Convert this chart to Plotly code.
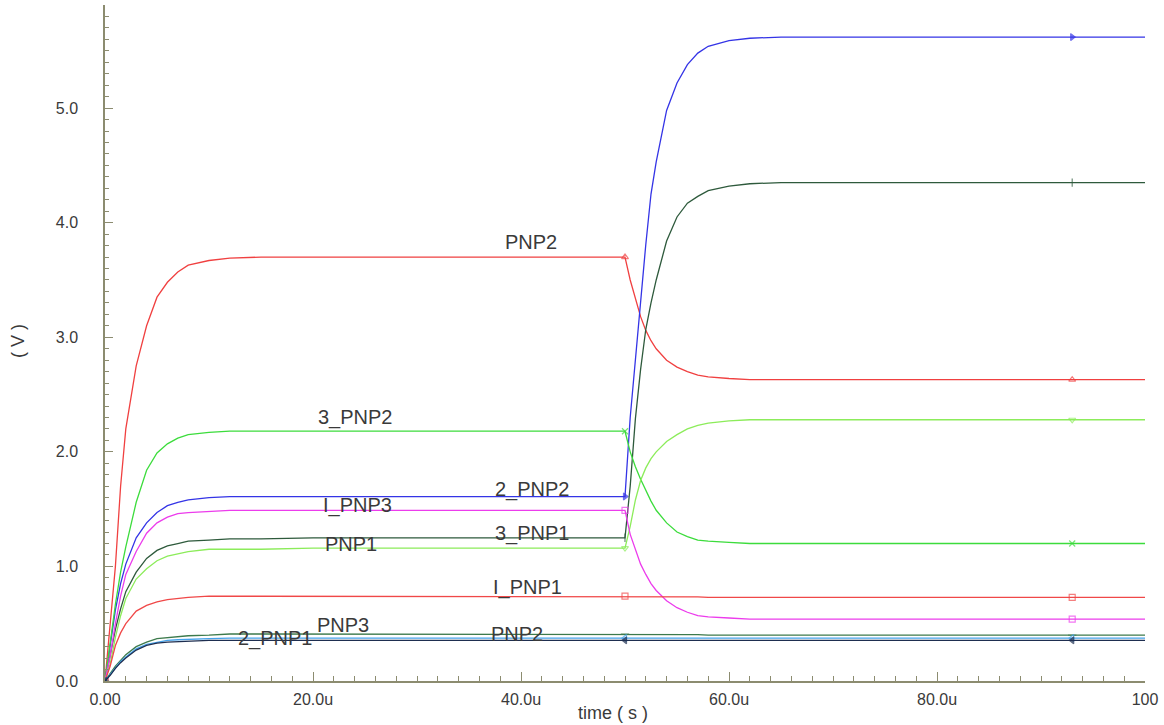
import plotly.graph_objects as go

# time points (microseconds)
T = [0, 0.5, 1, 1.5, 2, 3, 4, 5, 6, 7, 8, 10, 12, 15, 20, 30, 40, 50,
     50.5, 51, 51.5, 52, 52.5, 53, 54, 55, 56, 57, 58, 60, 62, 65, 70, 80, 93, 100]

# node voltages (V)
PNP2_A = [0, 0.50, 1.00, 1.70, 2.20, 2.75, 3.10, 3.35, 3.48, 3.57, 3.63, 3.67, 3.69, 3.70, 3.70, 3.70, 3.70, 3.70,
          3.50, 3.33, 3.18, 3.06, 2.97, 2.90, 2.80, 2.74, 2.70, 2.67, 2.655, 2.64, 2.63, 2.63, 2.63, 2.63, 2.63, 2.63]
PNP2_2 = [0, 0.30, 0.62, 0.85, 1.02, 1.25, 1.38, 1.47, 1.53, 1.56, 1.58, 1.60, 1.61, 1.61, 1.61, 1.61, 1.61, 1.61,
          2.30, 2.80, 3.35, 3.81, 4.25, 4.53, 4.98, 5.22, 5.38, 5.48, 5.54, 5.59, 5.61, 5.62, 5.62, 5.62, 5.62, 5.62]
PNP1_3 = [0, 0.22, 0.45, 0.63, 0.78, 0.95, 1.07, 1.14, 1.18, 1.20, 1.22, 1.23, 1.24, 1.24, 1.25, 1.25, 1.25, 1.25,
          1.70, 2.29, 2.72, 3.07, 3.30, 3.50, 3.84, 4.05, 4.17, 4.23, 4.28, 4.32, 4.34, 4.35, 4.35, 4.35, 4.35, 4.35]
PNP2_3 = [0, 0.33, 0.67, 0.95, 1.17, 1.56, 1.84, 1.99, 2.07, 2.12, 2.15, 2.17, 2.18, 2.18, 2.18, 2.18, 2.18, 2.18,
          2.00, 1.87, 1.76, 1.66, 1.57, 1.49, 1.38, 1.30, 1.26, 1.23, 1.22, 1.21, 1.20, 1.20, 1.20, 1.20, 1.20, 1.20]
PNP1_A = [0, 0.15, 0.38, 0.57, 0.72, 0.89, 0.98, 1.05, 1.09, 1.11, 1.13, 1.15, 1.15, 1.15, 1.16, 1.16, 1.16, 1.16,
          1.35, 1.58, 1.75, 1.86, 1.94, 2.00, 2.09, 2.15, 2.20, 2.23, 2.25, 2.27, 2.28, 2.28, 2.28, 2.28, 2.28, 2.28]
I_PNP3 = [0, 0.22, 0.50, 0.74, 0.93, 1.13, 1.29, 1.38, 1.43, 1.46, 1.47, 1.48, 1.49, 1.49, 1.49, 1.49, 1.49, 1.49,
          1.28, 1.14, 1.02, 0.93, 0.85, 0.79, 0.70, 0.64, 0.60, 0.57, 0.56, 0.55, 0.54, 0.54, 0.54, 0.54, 0.54, 0.54]
I_PNP1 = [0, 0.13, 0.31, 0.42, 0.50, 0.61, 0.66, 0.69, 0.71, 0.72, 0.73, 0.74, 0.74, 0.74, 0.74, 0.74, 0.74, 0.74,
          0.74, 0.74, 0.74, 0.74, 0.74, 0.74, 0.74, 0.74, 0.74, 0.735, 0.73, 0.73, 0.73, 0.73, 0.73, 0.73, 0.73, 0.73]
PNP3_A = [0, 0.07, 0.13, 0.18, 0.23, 0.30, 0.34, 0.37, 0.38, 0.39, 0.395, 0.40, 0.41, 0.41, 0.41, 0.41, 0.41, 0.41,
          0.41, 0.41, 0.41, 0.41, 0.41, 0.41, 0.41, 0.41, 0.41, 0.405, 0.40, 0.40, 0.40, 0.40, 0.40, 0.40, 0.40, 0.40]
PNP1_2 = [0, 0.06, 0.12, 0.17, 0.21, 0.28, 0.32, 0.34, 0.355, 0.36, 0.365, 0.37, 0.375, 0.375, 0.375, 0.375, 0.375, 0.375,
          0.375, 0.375, 0.375, 0.375, 0.375, 0.375, 0.375, 0.375, 0.375, 0.375, 0.375, 0.375, 0.375, 0.375, 0.375, 0.375, 0.375, 0.375]
PNP2_B = [0, 0.05, 0.11, 0.16, 0.20, 0.27, 0.31, 0.33, 0.34, 0.345, 0.35, 0.355, 0.355, 0.355, 0.355, 0.355, 0.355, 0.355,
          0.355, 0.355, 0.355, 0.355, 0.355, 0.355, 0.355, 0.355, 0.355, 0.355, 0.355, 0.355, 0.355, 0.355, 0.355, 0.355, 0.355, 0.355]

MARK_T = [0, 50, 93]

X_TICKS = [0, 20, 40, 60, 80, 100]
X_TICKTEXT = ["0.00", "20.0u", "40.0u", "60.0u", "80.0u", "100"]
Y_TICKS = [0, 1, 2, 3, 4, 5]
Y_TICKTEXT = ["0.0", "1.0", "2.0", "3.0", "4.0", "5.0"]

# name, values, colour, marker symbol, label x (us), label y (V)
SERIES = [
    ("PNP2", PNP2_A, "#f04040", "triangle-up-open", 41.0, 3.83),
    ("2_PNP2", PNP2_2, "#3434e6", "triangle-right", 41.1, 1.67),
    ("3_PNP1", PNP1_3, "#2e5a3c", "line-ns-open", 41.1, 1.29),
    ("3_PNP2", PNP2_3, "#3cdc3c", "x-thin-open", 24.1, 2.30),
    ("PNP1", PNP1_A, "#8cec5a", "triangle-down-open", 23.7, 1.20),
    ("I_PNP3", I_PNP3, "#ec3cec", "square-open", 24.3, 1.53),
    ("I_PNP1", I_PNP1, "#f04848", "square-open", 40.6, 0.82),
    ("PNP3", PNP3_A, "#3c7a4c", "line-ew-open", 22.9, 0.49),
    ("2_PNP1", PNP1_2, "#44a2ea", "triangle-left-open", 16.4, 0.37),
    ("PNP2", PNP2_B, "#1e2e50", "triangle-left", 39.6, 0.41),
]

AXIS = "#8c8c70"
TXT = "#3a3a3a"

fig = go.Figure()
for name, vals, col, sym, lx, ly in SERIES:
    sizes = [6 if t in MARK_T else 0 for t in T]
    fig.add_trace(go.Scatter(
        x=T, y=vals, mode="lines+markers", name=name,
        line=dict(color=col, width=1.3),
        marker=dict(symbol=sym, size=sizes, color=col, line=dict(color=col, width=1.2)),
        showlegend=False, hoverinfo="skip"))
    fig.add_annotation(x=lx, y=ly, xref="x", yref="y", text=name, showarrow=False,
                       xanchor="center", yanchor="middle",
                       font=dict(family="Liberation Sans", size=20, color=TXT))

fig.add_annotation(x=-0.0837, y=0.503, xref="paper", yref="paper", text="( V )",
                   textangle=-90, showarrow=False, xanchor="center", yanchor="middle",
                   font=dict(family="Liberation Sans", size=18, color=TXT))
fig.add_annotation(x=0.488, y=-0.047, xref="paper", yref="paper", text="time ( s )",
                   showarrow=False, xanchor="center", yanchor="middle",
                   font=dict(family="Liberation Sans", size=18, color=TXT))

fig.update_layout(
    width=1164, height=725,
    margin=dict(l=105, r=19, t=5, b=44),
    paper_bgcolor="white", plot_bgcolor="white",
    xaxis=dict(range=[0, 100], showline=True, linecolor=AXIS, linewidth=1.5,
               ticks="inside", ticklen=9, tickcolor=AXIS, tickwidth=1.2,
               tickvals=X_TICKS, ticktext=X_TICKTEXT, showgrid=False, zeroline=False,
               ticklabelstandoff=3, automargin=False,
               tickfont=dict(family="Liberation Sans", size=16, color=TXT),
               minor=dict(dtick=2, ticks="inside", ticklen=5, tickcolor=AXIS, tickwidth=1)),
    yaxis=dict(range=[0, 5.9], showline=True, linecolor=AXIS, linewidth=1.5,
               ticks="inside", ticklen=8, tickcolor=AXIS, tickwidth=1.2,
               tickvals=Y_TICKS, ticktext=Y_TICKTEXT, showgrid=False, zeroline=False,
               ticklabelstandoff=22, automargin=False,
               tickfont=dict(family="Liberation Sans", size=16, color=TXT),
               minor=dict(dtick=0.1, ticks="inside", ticklen=4, tickcolor=AXIS, tickwidth=1)),
)

fig.write_html("out.html", config={"displayModeBar": False},
               post_script="document.body.style.margin='0';document.body.style.overflow='hidden';")
